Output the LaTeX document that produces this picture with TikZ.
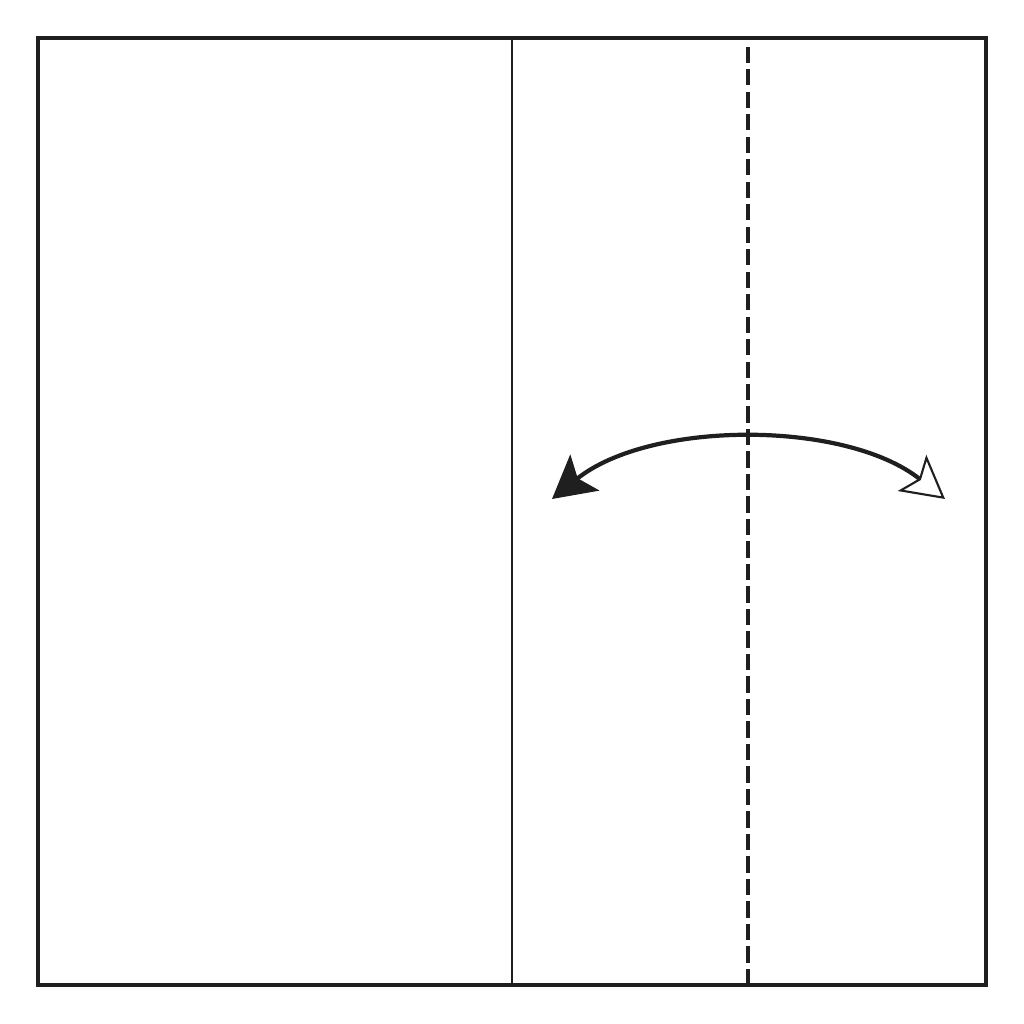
\documentclass[tikz,border=0pt]{standalone}
\usetikzlibrary{arrows.meta}
\colorlet{myink}{black!88}

\begin{document}
\begin{tikzpicture}
\tikzset{PaperStyle/.style ={line width=1.2pt,color = myink}}
\tikzset{CreaseStyle/.style ={line width=0.6pt,color = myink}}
\tikzset{ValleyStyle/.style ={line width=1pt,color = myink,dash pattern=on 4.6pt off 1.8pt}}
\tikzset{FoldArrowStyle/.style ={line width=1.2pt,color = myink,
  {Stealth[length=4.2mm,width=4.6mm,inset=0.9mm]}-{Stealth[length=4.2mm,width=4.6mm,inset=0.9mm,open,fill=white,line width=0.6pt]}}}
\useasboundingbox (0,0) rectangle (10.24,10.24);
\coordinate (SW) at (0.38,0.39);
\coordinate (NE) at (9.86,9.86);
\coordinate (creaseS) at (5.12,0.39);
\coordinate (creaseN) at (5.12,9.86);
\coordinate (valleyS) at (7.48,0.39);
\coordinate (valleyN) at (7.48,9.86);
\coordinate (arrowL) at (5.52,5.25);
\coordinate (arrowR) at (9.45,5.25);
\draw[PaperStyle] (SW) rectangle (NE);
\draw[CreaseStyle] (creaseS) -- (creaseN);
\draw[ValleyStyle] (valleyS) -- (valleyN);
\draw[FoldArrowStyle] (arrowL) .. controls (6.5,6.04) and (8.45,6.04) .. (arrowR);
\end{tikzpicture}
\end{document}
